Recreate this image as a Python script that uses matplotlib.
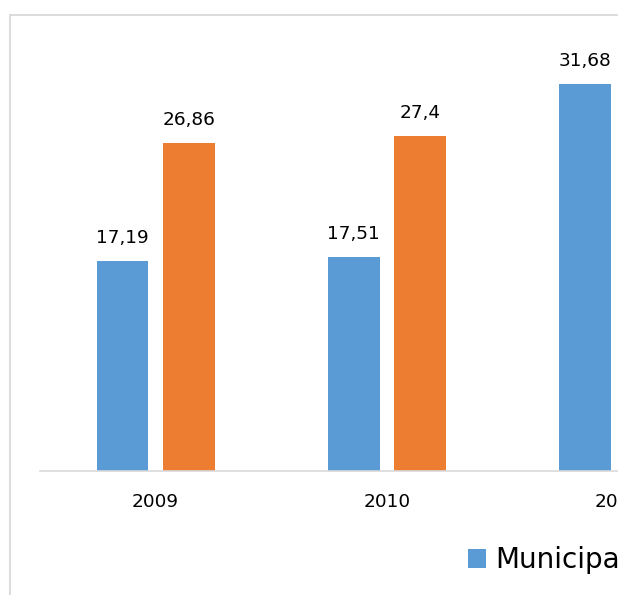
import numpy as np
from matplotlib import pyplot as plt
from matplotlib.patches import Rectangle

years = ['2009', '2010', '2011']
municipal = [17.19, 17.51, 31.68]
estadual = [26.86, 27.4, 28.9]  # 2011 value is cut off in the source, guessed

blue = '#5B9BD5'
orange = '#ED7D31'
grid_gray = '#D9D9D9'

W, H = 618, 595
fig = plt.figure(figsize=(W / 100, H / 100), dpi=100)

# outer chart frame (cut on right and bottom like the source)
fig.patches.append(Rectangle((10 / W, -0.1), 1.2, (H - 15) / H + 0.1,
                             transform=fig.transFigure, fill=False,
                             edgecolor=grid_gray, linewidth=1.3))

ax = fig.add_axes([40 / W, 124 / H, (W - 40) / W, 35 * 12.22 / H])
x = np.arange(len(years))
bw = 52.5 / 234
off = 33.5 / 234
b1 = ax.bar(x - off, municipal, bw, color=blue, label='Municipal')
b2 = ax.bar(x + off, estadual, bw, color=orange, label='Estadual')

fmt = lambda v: f'{v:g}'.replace('.', ',')
ax.bar_label(b1, labels=[fmt(v) for v in municipal], padding=10, fontsize=13.3)
ax.bar_label(b2, labels=[fmt(v) for v in estadual], padding=10, fontsize=13.3)

ax.set_xlim(-0.5, -0.5 + (W - 40) / 234)
ax.set_ylim(0, 35)
ax.set_xticks(x)
ax.set_xticklabels(years, fontsize=13.3)
ax.tick_params(axis='x', length=0, pad=16)
ax.set_yticks([])
for s in ['top', 'right', 'left']:
    ax.spines[s].set_visible(False)
ax.spines['bottom'].set_color(grid_gray)
ax.spines['bottom'].set_linewidth(1.2)

fig.legend(handles=[b1, b2], loc='center left', bbox_to_anchor=(468 / W, 34.5 / H),
           ncol=2, frameon=False, fontsize=20, handlelength=0.65, handleheight=0.65,
           handletextpad=0.33, borderpad=0, borderaxespad=0, columnspacing=1.5)

fig.savefig('out.png', dpi=100)
